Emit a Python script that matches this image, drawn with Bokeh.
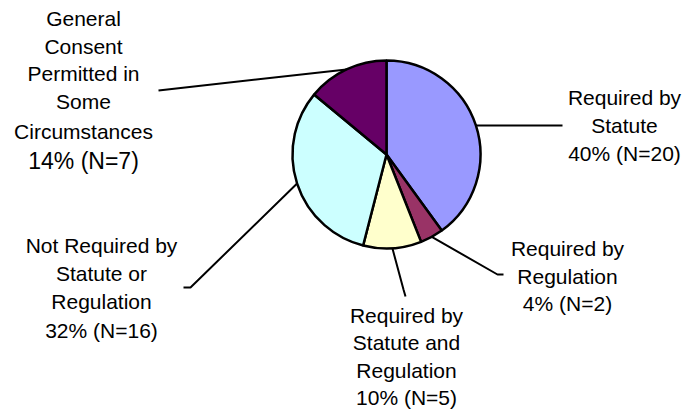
import math
from bokeh.plotting import figure
from bokeh.models import Range1d, ColumnDataSource
from bokeh.core.properties import value
from bokeh.embed import file_html
from bokeh.resources import INLINE

# Consent requirement categories, shares and counts
categories = [
    "Required by Statute",
    "Required by Regulation",
    "Required by Statute and Regulation",
    "Not Required by Statute or Regulation",
    "General Consent Permitted in Some Circumstances",
]
percents = [40, 4, 10, 32, 14]
counts = [20, 2, 5, 16, 7]
colors = ["#9999FF", "#993366", "#FFFFCC", "#CCFFFF", "#660066"]

# Label text lines (category wording, wrapped)
label_lines = [
    ["Required by", "Statute"],
    ["Required by", "Regulation"],
    ["Required by", "Statute and", "Regulation"],
    ["Not Required by", "Statute or", "Regulation"],
    ["General", "Consent", "Permitted in", "Some", "Circumstances"],
]

W, H = 685, 410
p = figure(width=W, height=H, output_backend="svg", toolbar_location=None,
           x_range=Range1d(0, W), y_range=Range1d(0, H),
           min_border=0, outline_line_color=None)
p.axis.visible = False
p.grid.visible = False
p.background_fill_color = "white"
p.border_fill_color = "white"

def Y(y):
    # layout positions are given top-down
    return H - y

cx, cy, r = 386, Y(154), 94

total = sum(percents)
starts, ends, mids = [], [], []
cum = 0.0
for v in percents:
    a0 = math.pi / 2 - 2 * math.pi * (cum + v) / total
    a1 = math.pi / 2 - 2 * math.pi * cum / total
    starts.append(a0)
    ends.append(a1)
    mids.append((a0 + a1) / 2)
    cum += v

src = ColumnDataSource(dict(start=starts, end=ends, color=colors, cat=categories))
p.wedge(x=cx, y=cy, radius=r, start_angle="start", end_angle="end",
        fill_color="color", line_color="black", line_width=2.5, source=src)

# Leader line waypoints after leaving the pie edge (top-down px)
leader_paths = [
    [(562, 125)],
    [(497, 274), (503, 274)],
    [(403, 289), (405, 296)],
    [(190, 287), (183, 287)],
    [(158, 90)],
]
for m, path in zip(mids, leader_paths):
    xs = [cx + r * math.cos(m)] + [pt[0] for pt in path]
    ys = [cy + r * math.sin(m)] + [Y(pt[1]) for pt in path]
    p.line(xs, ys, line_color="black", line_width=2)

# Label anchors: center x and vertical center of each line (top-down px)
label_x = [624, 567, 406, 101, 83]
label_centers = [
    [97, 125, 153],
    [248, 276, 303],
    [315, 342, 370, 397],
    [245, 273, 301, 330],
    [18, 46, 73, 101, 131, 160],
]

font = value("Liberation Sans")
for i in range(len(categories)):
    lines = label_lines[i] + [f"{percents[i]}% (N={counts[i]})"]
    for j, (txt, cy_txt) in enumerate(zip(lines, label_centers[i])):
        size = "21px"
        if i == 4 and j == len(lines) - 1:
            size = "23px"
        p.text(x=[label_x[i]], y=[Y(cy_txt)], text=[txt], text_font=font,
               text_font_size=size, text_align="center",
               text_baseline="middle", text_color="black")

open("out.html", "w").write(file_html(p, INLINE))
